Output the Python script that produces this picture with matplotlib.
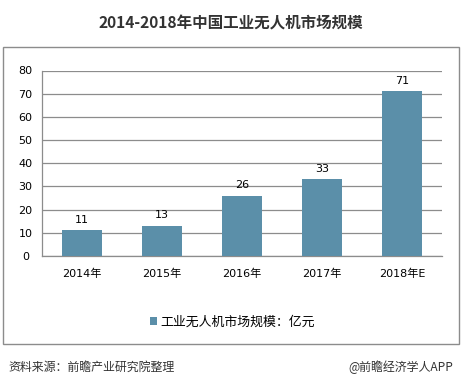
import matplotlib
matplotlib.use("Agg")
import matplotlib.pyplot as plt
from matplotlib.patches import Rectangle, Patch

plt.rcParams['font.family'] = ['DejaVu Sans', 'Noto Sans CJK SC']

categories = ["2014年", "2015年", "2016年", "2017年", "2018年E"]
values = [11, 13, 26, 33, 71]
yticks = [0, 10, 20, 30, 40, 50, 60, 70, 80]
title = "2014-2018年中国工业无人机市场规模"
legend_label = "工业无人机市场规模：亿元"
source = "资料来源：前瞻产业研究院整理"
brand = "@前瞻经济学人APP"

CJK = ['Noto Sans CJK SC', 'DejaVu Sans']

W, H = 462, 386
fig = plt.figure(figsize=(W/100, H/100), dpi=100)
fig.patch.set_facecolor("white")

# outer frame
fig.patches.append(Rectangle((3/W, 1-344/H), 456/W, (344-47)/H, transform=fig.transFigure,
                             fill=False, edgecolor="#8c8c8c", linewidth=1.0))

ax = fig.add_axes([42/W, 1-256/H, 400/W, (256-70.5)/H])
bar_color = "#5B8FA9"
x = range(len(categories))
ax.bar(x, values, width=0.49, color=bar_color, zorder=3)
ax.set_xlim(-0.5, len(categories)-0.5)
ax.set_ylim(0, 80)
ax.set_yticks(yticks)
ax.set_xticks(list(x))
ax.set_xticklabels(categories)
ax.grid(axis="y", color="#8c8c8c", linewidth=0.9, zorder=0)
for s in ["top", "right"]:
    ax.spines[s].set_visible(False)
for s in ["left", "bottom"]:
    ax.spines[s].set_color("#8c8c8c")
    ax.spines[s].set_linewidth(0.9)
ax.tick_params(axis="both", length=0, labelsize=8, colors="#000000")
ax.tick_params(axis="y", pad=12)
ax.tick_params(axis="x", pad=9)
for lbl in ax.get_yticklabels():
    lbl.set_horizontalalignment("center")
for xi, v in zip(x, values):
    ax.text(xi, v + 2.5, str(v), ha="center", va="bottom", fontsize=8, color="#000000")

fig.text(231/W, 1-23/H, title, ha="center", va="center", fontsize=11.2, fontweight="bold",
         color="#333333", family=CJK)

handle = Patch(facecolor=bar_color, edgecolor="none")
fig.legend([handle], [legend_label], loc="center", bbox_to_anchor=(232/W, 1-322/H),
           frameon=False, prop={'family': CJK, 'size': 9.3}, handlelength=0.6, handleheight=0.6,
           handletextpad=0.2)

fig.text(8/W, 1-367/H, source, ha="left", va="center", fontsize=8.6, style="italic",
         color="#333333", family=CJK)
fig.text(453/W, 1-367/H, brand, ha="right", va="center", fontsize=8.6, color="#333333", family=CJK)

fig.savefig("out.png", dpi=100, facecolor="white")
